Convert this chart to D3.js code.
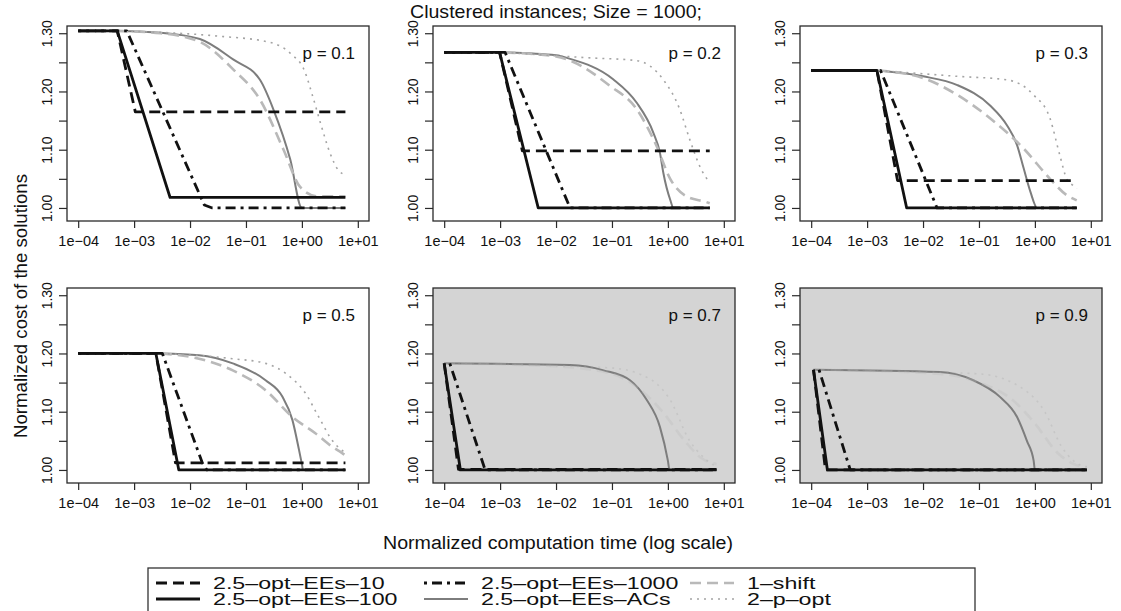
<!DOCTYPE html>
<html>
<head>
<meta charset="utf-8">
<script src="https://cdn.jsdelivr.net/npm/d3@7"></script>
<style>
  body { margin: 0; background: #fff; }
  svg { display: block; }
  text { font-family: "Liberation Sans", Arial, Helvetica, sans-serif; fill: #111; }
</style>
</head>
<body>
<svg id="chart" width="1121" height="611"></svg>
<script>
// ---- data -----------------------------------------------------------------
const chartTitle = "Clustered instances; Size = 1000;";
const xTitle = "Normalized computation time (log scale)";
const yTitle = "Normalized cost of the solutions";

const panelLabels = ["p = 0.1", "p = 0.2", "p = 0.3", "p = 0.5", "p = 0.7", "p = 0.9"];
const shadedPanels = [false, false, false, false, true, true];

const seriesNames = ["2.5–opt–EEs–10", "2.5–opt–EEs–100", "2.5–opt–EEs–1000",
                     "2.5–opt–EEs–ACs", "1–shift", "2–p–opt"];

const xTickValues = [1e-4, 1e-3, 1e-2, 1e-1, 1, 10];
const xTickLabels = ["1e−04", "1e−03", "1e−02", "1e−01", "1e+00", "1e+01"];
const yTickValues = [1.00, 1.05, 1.10, 1.15, 1.20, 1.25, 1.30];
const yTickLabels = ["1.00", "", "1.10", "", "1.20", "", "1.30"];

// [time, normalized cost] per panel, one array per algorithm
const ees10 = [
  [[1e-4, 1.304], [5e-4, 1.304], [1.05e-3, 1.165], [6, 1.165]],
  [[1e-4, 1.267], [9.8e-4, 1.267], [2.5e-3, 1.098], [5.6, 1.098]],
  [[1e-4, 1.236], [1.5e-3, 1.236], [3.5e-3, 1.047], [5.6, 1.047]],
  [[1e-4, 1.200], [2.45e-3, 1.200], [5.5e-3, 1.012], [6, 1.012]],
  [[1e-4, 1.183], [1.8e-4, 1.001], [7.4, 1.001]],
  [[1.1e-4, 1.172], [1.8e-4, 1.0], [8.5, 1.0]]
];
const ees100 = [
  [[1e-4, 1.304], [5e-4, 1.304], [4.4e-3, 1.018], [6, 1.018]],
  [[1e-4, 1.267], [9.8e-4, 1.267], [4.8e-3, 1.0], [5.6, 1.0]],
  [[1e-4, 1.236], [1.5e-3, 1.236], [5.1e-3, 1.0], [5.6, 1.0]],
  [[1e-4, 1.200], [2.45e-3, 1.200], [6.3e-3, 1.0], [6, 1.0]],
  [[1e-4, 1.183], [1.95e-4, 1.0], [7.4, 1.0]],
  [[1.1e-4, 1.172], [1.95e-4, 1.0], [8.5, 1.0]]
];
const ees1000 = [
  [[1e-4, 1.304], [7.4e-4, 1.304], [1.8e-2, 1.005], [2.5e-2, 1.0], [6, 1.0]],
  [[1e-4, 1.267], [1.23e-3, 1.267], [1.78e-2, 1.0], [5.6, 1.0]],
  [[1e-4, 1.236], [1.74e-3, 1.236], [1.78e-2, 1.0], [5.6, 1.0]],
  [[1e-4, 1.200], [3.2e-3, 1.200], [1.66e-2, 1.012], [2.0e-2, 1.0], [6, 1.0]],
  [[1.26e-4, 1.183], [5.4e-4, 1.0], [7.4, 1.0]],
  [[1.38e-4, 1.172], [5e-4, 1.0], [8.5, 1.0]]
];
const eesACs = [
  [[5e-4, 1.304], [3e-3, 1.301], [1.5e-2, 1.29], [5.9e-2, 1.255], [0.178, 1.22], [0.31, 1.169],
   [0.62, 1.083], [1.0, 1.0], [6, 1.0]],
  [[1.2e-3, 1.267], [1e-2, 1.262], [1.78e-2, 1.256], [0.105, 1.221], [0.275, 1.181], [0.55, 1.129],
   [0.72, 1.095], [0.83, 1.06], [1.1, 1.014], [1.26, 1.0], [5.6, 1.0]],
  [[1.6e-3, 1.236], [1e-2, 1.226], [4.1e-2, 1.211], [0.158, 1.176], [0.316, 1.142], [0.48, 1.108],
   [0.63, 1.068], [0.83, 1.028], [1.1, 1.0], [5.6, 1.0]],
  [[3e-3, 1.200], [1.45e-2, 1.197], [5.8e-2, 1.183], [0.224, 1.154], [0.447, 1.126], [0.676, 1.086],
   [0.89, 1.034], [1.0, 1.01], [1.05, 1.0], [6, 1.0]],
  [[1e-4, 1.183], [1.78e-2, 1.18], [7.1e-2, 1.171], [0.21, 1.154], [0.42, 1.12], [0.72, 1.074],
   [1.0, 1.016], [1.07, 1.0], [7.4, 1.0]],
  [[1.1e-4, 1.172], [2e-2, 1.168], [7.9e-2, 1.154], [0.24, 1.125], [0.48, 1.091], [0.72, 1.05],
   [0.95, 1.016], [1.0, 1.0], [8.5, 1.0]]
];
const oneShift = [
  [[5e-4, 1.304], [3e-3, 1.30], [1.5e-2, 1.285], [5.9e-2, 1.238], [0.178, 1.186], [0.47, 1.10],
   [0.93, 1.036], [1.86, 1.02], [6, 1.02]],
  [[1.2e-3, 1.267], [1e-2, 1.26], [1.78e-2, 1.253], [0.091, 1.21], [0.275, 1.17], [0.63, 1.106],
   [1.1, 1.05], [2.14, 1.02], [4.9, 1.01], [5.6, 1.008]],
  [[1.6e-3, 1.236], [1e-2, 1.223], [4.1e-2, 1.194], [0.158, 1.154], [0.63, 1.102], [1.86, 1.05],
   [3.7, 1.022], [5.6, 1.013]],
  [[3e-3, 1.200], [1.45e-2, 1.191], [5.8e-2, 1.171], [0.224, 1.137], [0.676, 1.091], [1.74, 1.063],
   [3.47, 1.04], [5.25, 1.029], [6, 1.025]],
  [[1e-4, 1.183], [1e-2, 1.178], [0.1, 1.165], [0.3, 1.14], [0.8, 1.10], [2, 1.05], [4, 1.02], [7.4, 1.01]],
  [[1.1e-4, 1.172], [2e-2, 1.165], [0.1, 1.15], [0.4, 1.12], [1, 1.08], [2.5, 1.03], [5, 1.01], [8.5, 1.005]]
];
const twoPOpt = [
  [[5e-4, 1.304], [3.2e-2, 1.295], [0.25, 1.285], [0.63, 1.265], [1.12, 1.235], [1.58, 1.19],
   [2.24, 1.14], [3.16, 1.095], [4.47, 1.065], [6, 1.057]],
  [[1.2e-3, 1.267], [3.5e-2, 1.258], [0.275, 1.253], [0.83, 1.22], [1.62, 1.17], [2.45, 1.118],
   [3.7, 1.072], [5.6, 1.043]],
  [[1.6e-3, 1.236], [4.1e-2, 1.226], [0.316, 1.22], [0.95, 1.194], [1.86, 1.154], [2.8, 1.09],
   [3.7, 1.05], [4.9, 1.038], [5.6, 1.033]],
  [[3e-3, 1.200], [5.8e-2, 1.191], [0.224, 1.183], [0.51, 1.166], [1.17, 1.131], [2.0, 1.091],
   [3.47, 1.051], [6, 1.029]],
  [[1e-4, 1.183], [0.1, 1.175], [0.5, 1.155], [1.1, 1.12], [2.45, 1.05], [4.3, 1.022], [7.4, 1.005]],
  [[1.1e-4, 1.172], [0.1, 1.165], [0.6, 1.14], [1.5, 1.10], [3, 1.04], [5, 1.015], [8.5, 1.005]]
];

// ---- styles ---------------------------------------------------------------
const seriesData = [ees10, ees100, ees1000, eesACs, oneShift, twoPOpt];
const seriesStyle = [
  { color: "#111", width: 2.8, dash: "11,6", smooth: false, faintOnShade: false },
  { color: "#111", width: 2.8, dash: null, smooth: false, faintOnShade: false },
  { color: "#111", width: 2.8, dash: "3,5,10,5", smooth: false, faintOnShade: false },
  { color: "#7d7d7d", width: 2.0, dash: null, smooth: true, faintOnShade: false },
  { color: "#b9b9b9", width: 2.6, dash: "11,6", smooth: true, faintOnShade: true },
  { color: "#a4a4a4", width: 1.6, dash: "2,5", smooth: true, faintOnShade: true }
];
const drawOrder = [3, 4, 5, 2, 0, 1];

// ---- layout ---------------------------------------------------------------
const svg = d3.select("#chart");
svg.append("rect").attr("width", 1121).attr("height", 611).attr("fill", "#fff");

const colLeft = [67, 433, 800];
const rowTop = [26, 288];
const pw = 302, ph = 195;

panelLabels.forEach((label, i) => {
  const left = colLeft[i % 3], top = rowTop[Math.floor(i / 3)];
  const x = d3.scaleLog().domain([Math.pow(10, -4.2), Math.pow(10, 1.2)]).range([left, left + pw]);
  const y = d3.scaleLinear().domain([0.9776, 1.3124]).range([top + ph, top]);
  const g = svg.append("g");

  if (shadedPanels[i]) {
    g.append("rect").attr("x", left).attr("y", top).attr("width", pw).attr("height", ph)
      .attr("fill", "#d4d4d4");
  }

  const clipId = "clip" + i;
  g.append("clipPath").attr("id", clipId).append("rect")
    .attr("x", left).attr("y", top).attr("width", pw).attr("height", ph);

  const lines = g.append("g").attr("clip-path", `url(#${clipId})`);
  drawOrder.forEach(s => {
    const st = seriesStyle[s];
    const line = d3.line().x(d => x(d[0])).y(d => y(d[1]))
      .curve(st.smooth ? d3.curveMonotoneX : d3.curveLinear);
    lines.append("path").datum(seriesData[s][i])
      .attr("d", line).attr("fill", "none")
      .attr("stroke", st.color).attr("stroke-width", st.width)
      .attr("stroke-dasharray", st.dash)
      .attr("stroke-linejoin", "round")
      .attr("stroke-opacity", shadedPanels[i] && st.faintOnShade ? 0.3 : 1);
  });

  // frame
  g.append("rect").attr("x", left).attr("y", top).attr("width", pw).attr("height", ph)
    .attr("fill", "none").attr("stroke", "#2a2a2a").attr("stroke-width", 1.3);

  // x axis
  const xAxis = d3.axisBottom(x).tickValues(xTickValues)
    .tickFormat((d, k) => xTickLabels[k]).tickSize(7).tickPadding(8);
  const xg = g.append("g").attr("transform", `translate(0,${top + ph})`).call(xAxis);
  xg.select(".domain").remove();
  xg.selectAll("line").attr("stroke", "#2a2a2a").attr("stroke-width", 1.2);
  xg.selectAll("text").attr("font-size", 14.5).attr("fill", "#111")
    .attr("font-family", '"Liberation Sans", Arial, sans-serif');

  // y axis (labels rotated, as in base R graphics)
  const yAxis = d3.axisLeft(y).tickValues(yTickValues)
    .tickFormat((d, k) => yTickLabels[k]).tickSize(8);
  const yg = g.append("g").attr("transform", `translate(${left},0)`).call(yAxis);
  yg.select(".domain").remove();
  yg.selectAll("line").attr("stroke", "#2a2a2a").attr("stroke-width", 1.2);
  yg.selectAll("text")
    .attr("x", null).attr("dy", null)
    .attr("transform", "translate(-20,0) rotate(-90)")
    .attr("text-anchor", "middle").attr("dominant-baseline", "central")
    .attr("font-size", 14).attr("fill", "#111")
    .attr("font-family", '"Liberation Sans", Arial, sans-serif');

  // panel tag
  g.append("text").attr("x", left + 288).attr("y", top + 33)
    .attr("text-anchor", "end").attr("font-size", 17).text(label);
});

// ---- titles ---------------------------------------------------------------
svg.append("text").attr("x", 556).attr("y", 18).attr("text-anchor", "middle")
  .attr("font-size", 18.5).attr("textLength", 292).attr("lengthAdjust", "spacingAndGlyphs")
  .text(chartTitle);

svg.append("text").attr("transform", "translate(27,306) rotate(-90)")
  .attr("text-anchor", "middle").attr("font-size", 18)
  .attr("textLength", 264).attr("lengthAdjust", "spacingAndGlyphs")
  .text(yTitle);

svg.append("text").attr("x", 558).attr("y", 549).attr("text-anchor", "middle")
  .attr("font-size", 18).attr("textLength", 350).attr("lengthAdjust", "spacingAndGlyphs")
  .text(xTitle);

// ---- legend ---------------------------------------------------------------
const legend = svg.append("g");
legend.append("rect").attr("x", 148).attr("y", 568).attr("width", 827).attr("height", 60)
  .attr("fill", "#fff").attr("stroke", "#333").attr("stroke-width", 1.3);

const legCols = [156, 424, 690];
const legRows = [583, 599];
const legendStretch = 1.45;
seriesNames.forEach((name, s) => {
  const cx = legCols[Math.floor(s / 2)], cy = legRows[s % 2];
  const st = seriesStyle[s];
  legend.append("line").attr("x1", cx).attr("x2", cx + 44).attr("y1", cy).attr("y2", cy)
    .attr("stroke", st.color).attr("stroke-width", st.width)
    .attr("stroke-dasharray", st.dash);
  const t = legend.append("text").attr("x", cx + 57).attr("y", cy).attr("dy", "0.36em")
    .attr("font-size", 16).text(name);
  const w = t.node().getComputedTextLength();
  t.attr("textLength", w * legendStretch).attr("lengthAdjust", "spacingAndGlyphs");
});
</script>
</body>
</html>
